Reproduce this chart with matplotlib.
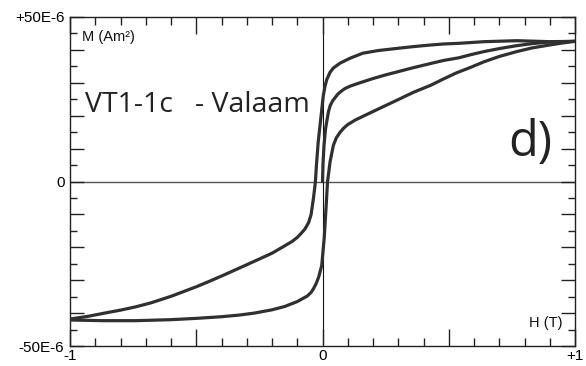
import matplotlib
matplotlib.use("Agg")
import matplotlib.pyplot as plt
from matplotlib.ticker import MultipleLocator, FuncFormatter

# ---- data (M in units of 1E-6 Am^2, H in T) ----
H_desc = [1.0, 0.9, 0.77, 0.64, 0.54, 0.48, 0.43, 0.36, 0.3, 0.22, 0.16, 0.11,
          0.07, 0.043, 0.03, 0.017, 0.01, 0.003, -0.007, -0.017, -0.024, -0.028,
          -0.035, -0.045, -0.055, -0.07, -0.085, -0.1, -0.12, -0.155, -0.2,
          -0.26, -0.3, -0.39, -0.45, -0.5, -0.6, -0.68, -0.74, -0.8, -0.87,
          -0.93, -1.0]
M_desc = [42.6, 42.5, 42.8, 42.5, 42.0, 41.8, 41.5, 41.0, 40.5, 39.8, 39.0, 37.5,
          36.0, 34.5, 33.2, 31.0, 29.0, 26.0, 19.0, 12.0, 5.0, 0.0,
          -4.6, -10.0, -12.5, -14.5, -15.8, -17.0, -18.2, -19.8, -21.8,
          -23.9, -25.3, -28.4, -30.4, -32.0, -34.9, -36.9, -38.1, -39.1, -40.1,
          -41.0, -41.8]

H_asc = [-1.0, -0.87, -0.74, -0.6, -0.5, -0.4, -0.33, -0.27, -0.2, -0.15, -0.1,
         -0.06, -0.045, -0.035, -0.025, -0.015, -0.003, 0.007, 0.014, 0.02, 0.03,
         0.043, 0.055, 0.07, 0.085, 0.1, 0.13, 0.16, 0.22, 0.3, 0.36, 0.43,
         0.48, 0.53, 0.59, 0.64, 0.7, 0.77, 0.83, 0.9, 0.95, 1.0]
M_asc = [-42.1, -42.3, -42.3, -42.0, -41.6, -41.1, -40.6, -40.0, -39.0, -38.0, -36.5,
         -34.8, -33.7, -32.5, -31.0, -29.0, -25.5, -17.0, -8.0, 0.0, 6.0,
         11.0, 13.3, 15.0, 16.3, 17.3, 18.7, 19.8, 22.0, 24.9, 27.1, 29.3,
         31.2, 33.0, 34.8, 36.4, 38.0, 39.5, 40.6, 41.5, 42.1, 42.6]

H_init = [0.0, 0.002, 0.006, 0.012, 0.023, 0.03, 0.04, 0.06, 0.075, 0.09, 0.11,
          0.14, 0.2, 0.25, 0.3, 0.36, 0.43, 0.48, 0.54, 0.59, 0.64, 0.7, 0.77,
          0.83, 0.9, 1.0]
M_init = [0.0, 5.5, 11.0, 16.0, 21.0, 23.0, 24.5, 26.5, 27.5, 28.3, 29.0,
          29.8, 31.3, 32.4, 33.4, 34.6, 35.9, 36.8, 37.6, 38.6, 39.5, 40.4, 41.3,
          41.9, 42.4, 42.6]

x_labels = {-1: "-1", 0: "0", 1: "+1"}
y_labels = {-50: "-50E-6", 0: "0", 50: "+50E-6"}

# ---- figure ----
fig = plt.figure(figsize=(5.86, 3.66), dpi=100)
ax = fig.add_axes([70/586, 20/366, 505/586, 329/366])
ax.set_xlim(-1, 1)
ax.set_ylim(-50, 50)

ax.axhline(0, color="#555555", lw=1.0, zorder=1)
ax.axvline(0, color="#111111", lw=0.8, zorder=1)

kw = dict(color="#303030", lw=2.3, solid_joinstyle="round", solid_capstyle="round", zorder=3)
ax.plot(H_desc, M_desc, **kw)
ax.plot(H_asc, M_asc, **kw)
ax.plot(H_init, M_init, **kw)

for s in ax.spines.values():
    s.set_linewidth(1.0)
    s.set_color("#222222")

ax.xaxis.set_major_locator(MultipleLocator(0.5))
ax.xaxis.set_minor_locator(MultipleLocator(0.1))
ax.yaxis.set_major_locator(MultipleLocator(10))
ax.yaxis.set_minor_locator(MultipleLocator(5))

def fx(v, p):
    r = round(v, 3)
    return x_labels.get(int(r), "") if abs(r - round(r)) < 1e-6 else ""

def fy(v, p):
    r = int(round(v))
    return y_labels.get(r, "")

ax.xaxis.set_major_formatter(FuncFormatter(fx))
ax.yaxis.set_major_formatter(FuncFormatter(fy))

ax.tick_params(axis="x", which="major", direction="in", length=12, width=1,
               top=True, bottom=True, pad=2, labelsize=11, color="#222222")
ax.tick_params(axis="x", which="minor", direction="in", length=6, width=1,
               top=True, bottom=True, color="#222222")
ax.tick_params(axis="y", which="major", direction="in", length=10, width=1,
               left=True, right=True, pad=4, labelsize=11, color="#222222")
ax.tick_params(axis="y", which="minor", direction="in", length=5, width=1,
               left=True, right=True, color="#222222")
for lab in ax.get_xticklabels() + ax.get_yticklabels():
    lab.set_family("Liberation Sans")

ax.text(-0.953, 44.0, "M (Am²)", fontsize=10.5, family="Liberation Sans",
        ha="left", va="center", color="#111111")
ax.text(0.952, -42.9, "H (T)", fontsize=10.5, family="Liberation Sans",
        ha="right", va="center", color="#111111")
ax.text(-0.94, 21.1, "VT1-1c   - Valaam", fontsize=20.5, family="Open Sans",
        ha="left", va="baseline", color="#222222")
ax.text(0.735, 7.6, "d)", fontsize=35, family="Open Sans",
        ha="left", va="baseline", color="#222222")

fig.savefig("out.png", dpi=100)
